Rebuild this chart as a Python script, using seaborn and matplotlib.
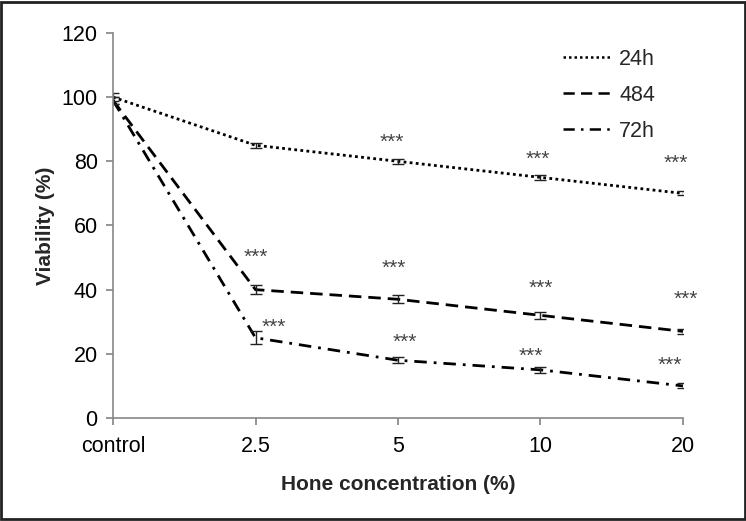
import numpy as np
import pandas as pd
import seaborn as sns
import matplotlib
matplotlib.use("Agg")
import matplotlib.pyplot as plt
from matplotlib.patches import Rectangle
from matplotlib.lines import Line2D

categories = ["control", "2.5", "5", "10", "20"]
series_names = ["24h", "484", "72h"]
v24 = [100, 85, 80, 75, 70]
v48 = [99, 40, 37, 32, 27]
v72 = [99, 25, 18, 15, 10]
e24 = [1.2, 0.8, 0.7, 0.7, 0.6]
e48 = [1.0, 1.5, 1.2, 1.0, 0.8]
e72 = [1.0, 2.0, 1.0, 1.0, 0.8]
# significance marker positions (category index offset, y value)
star24 = [(2, -0.04, 86.0), (3, -0.02, 80.5), (4, -0.05, 79.5)]
star48 = [(1, 0.0, 50.0), (2, -0.03, 46.5), (3, 0.0, 40.5), (4, 0.02, 37.0)]
star72 = [(1, 0.13, 28.2), (2, 0.05, 23.5), (3, -0.07, 19.1), (4, -0.09, 16.3)]

sns.set_theme(style="white")
plt.rcParams['font.family'] = ['Liberation Sans', 'DejaVu Sans']

fig = plt.figure(figsize=(7.46, 5.21), dpi=100)
ax = fig.add_axes([0.1515, 0.1977, 0.764, 0.739])

idx = np.arange(len(categories))
df = pd.DataFrame({
    "x": np.tile(idx, 3),
    "v": v24 + v48 + v72,
    "s": np.repeat(series_names, len(categories)),
})
styles = {"24h": (1, 1.2), "484": (4.5, 2.5), "72h": (4.5, 2.5, 1, 2.5)}
sns.lineplot(data=df, x="x", y="v", style="s", dashes=styles, color="black",
             linewidth=2, ax=ax, legend=False)

for vals, errs in [(v24, e24), (v48, e48), (v72, e72)]:
    ax.errorbar(idx, vals, yerr=errs, fmt="none", ecolor="#222222",
                elinewidth=1, capsize=4, capthick=1)

for group in [star24, star48, star72]:
    for i, off, y in group:
        ax.text(i + off, y, "***", ha="center", va="center", fontsize=15,
                color="#444444")

ax.set_xlim(0, 4)
ax.set_ylim(0, 120)
ax.set_yticks(np.arange(0, 121, 20))
ax.set_xticks(idx)
ax.set_xticklabels(categories)
ax.tick_params(axis="both", labelsize=15.5, colors="black", length=5,
               direction="out", bottom=True, left=True, color="#888888", pad=6)
ax.tick_params(axis="x", pad=8)
for side in ["top", "right"]:
    ax.spines[side].set_visible(False)
for side in ["left", "bottom"]:
    ax.spines[side].set_color("#888888")
    ax.spines[side].set_linewidth(1.2)
ax.set_xlabel("Hone concentration (%)", fontsize=15, fontweight="bold", labelpad=13)
ax.set_ylabel("Viability (%)", fontsize=15, fontweight="bold", labelpad=5)

handles = [Line2D([], [], color="black", linewidth=1.8, dashes=styles[n]) for n in series_names]
leg = ax.legend(handles, series_names, loc="upper right", bbox_to_anchor=(0.985, 1.01),
                frameon=False, fontsize=15.5, handlelength=2.2, labelspacing=0.7,
                handletextpad=0.4)

fig.patches.append(Rectangle((0.002, 0.003), 0.996, 0.994, transform=fig.transFigure,
                             fill=False, edgecolor="#222222", linewidth=2))
fig.savefig("out.png", dpi=100, facecolor="white")
